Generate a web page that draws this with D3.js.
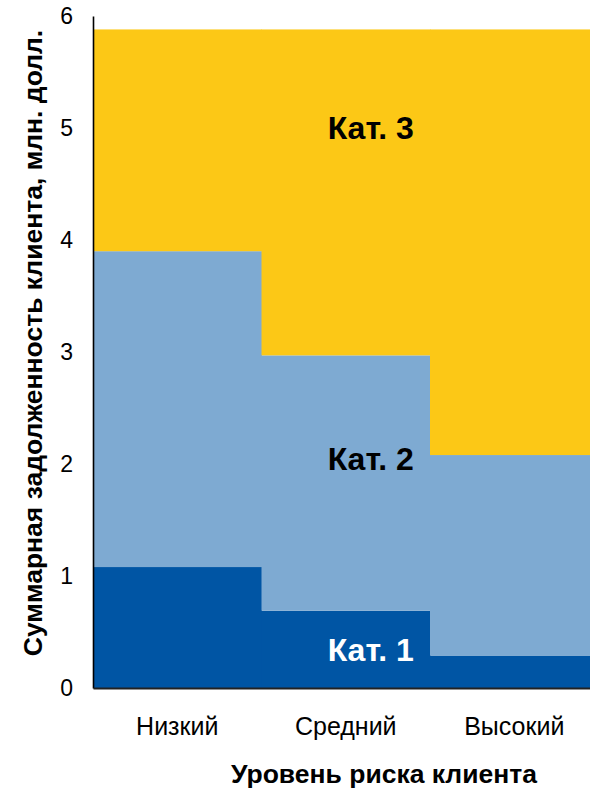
<!DOCTYPE html>
<html>
<head>
<meta charset="utf-8">
<script src="https://cdn.jsdelivr.net/npm/d3@7"></script>
<style>
  html, body { margin: 0; padding: 0; background: #fff; }
  svg { display: block; font-family: "Liberation Sans", Arial, sans-serif; }
</style>
</head>
<body>
<svg id="chart" width="590" height="794"></svg>
<script>
// Risk levels along the x axis
const categories = ["Низкий", "Средний", "Высокий"];
// Debt per category (mln USD), stacked bottom to top
const cat1 = [1.08, 0.69, 0.29];
const cat2 = [2.82, 2.28, 1.79];
const cat3 = [1.98, 2.91, 3.80];
const seriesNames = ["Кат. 1", "Кат. 2", "Кат. 3"];
const yTicks = [0, 1, 2, 3, 4, 5, 6];
// Label anchors in data units (value on y axis)
const labelValues = [0.24, 1.95, 4.9];

const colors = ["#0055A4", "#7EAAD2", "#FCC816"];
const labelColors = ["#ffffff", "#000000", "#000000"];

const svg = d3.select("#chart");
const plotLeft = 93, plotTop = 16, plotBottom = 688;
const bandW = 168.5;

const x = d3.scaleBand()
  .domain(categories)
  .range([plotLeft, plotLeft + bandW * categories.length])
  .padding(0);

const y = d3.scaleLinear().domain([0, 6]).range([plotBottom, plotTop]);

const rows = categories.map((c, i) => ({ cat: c, s0: cat1[i], s1: cat2[i], s2: cat3[i] }));
const stack = d3.stack().keys(["s0", "s1", "s2"])(rows);

svg.append("g").selectAll("g")
  .data(stack)
  .join("g")
  .attr("fill", (d, i) => colors[i])
  .selectAll("rect")
  .data(d => d)
  .join("rect")
  .attr("x", d => x(d.data.cat))
  .attr("width", x.bandwidth() + 0.5)
  .attr("y", d => y(d[1]))
  .attr("height", d => y(d[0]) - y(d[1]));

// Y axis: line and labels, no tick marks
const yAxis = d3.axisLeft(y).tickValues(yTicks).tickSize(0).tickPadding(20).tickFormat(d3.format("d"));
const gy = svg.append("g").attr("transform", `translate(${plotLeft},0)`).call(yAxis);
gy.select(".domain").attr("stroke", "#000").attr("stroke-width", 1.6);
gy.selectAll("text").attr("font-size", 23).attr("fill", "#000")
  .attr("font-family", "'Liberation Sans', Arial, sans-serif");

// X axis
const xAxis = d3.axisBottom(x).tickSize(0);
const gx = svg.append("g").attr("transform", `translate(0,${plotBottom})`).call(xAxis);
gx.select(".domain").attr("stroke", "#222").attr("stroke-width", 2);
gx.selectAll("text").attr("font-size", 25).attr("fill", "#000")
  .attr("y", 47).attr("dy", 0)
  .attr("font-family", "'Liberation Sans', Arial, sans-serif");

// Category labels inside the stacks
svg.append("g").selectAll("text")
  .data(seriesNames)
  .join("text")
  .attr("x", x("Средний") + x.bandwidth() / 2 + 25)
  .attr("y", (d, i) => y(labelValues[i]))
  .attr("text-anchor", "middle")
  .attr("font-size", 32)
  .attr("font-weight", "bold")
  .attr("fill", (d, i) => labelColors[i])
  .text(d => d);

// Axis titles
svg.append("text")
  .attr("x", 384).attr("y", 783)
  .attr("text-anchor", "middle")
  .attr("font-size", 26.5).attr("font-weight", "bold")
  .text("Уровень риска клиента");

svg.append("text")
  .attr("transform", "translate(42,343) rotate(-90)")
  .attr("text-anchor", "middle")
  .attr("font-size", 26.5).attr("font-weight", "bold")
  .text("Суммарная задолженность клиента, млн. долл.");
</script>
</body>
</html>
